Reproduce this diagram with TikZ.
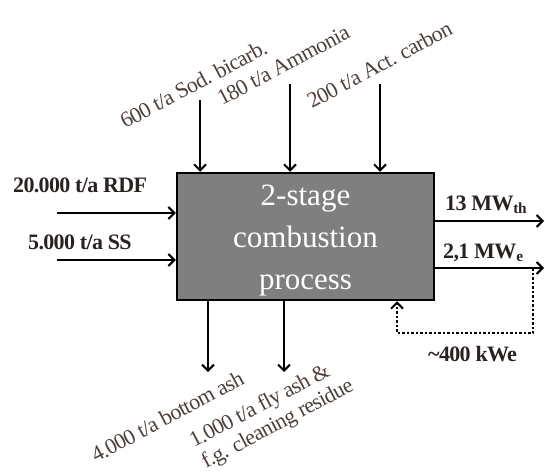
\documentclass[tikz,border=0pt]{standalone}
\usepackage{fontspec}
\setmainfont{Liberation Serif}
\usetikzlibrary{arrows.meta}
\definecolor{boxgray}{HTML}{7F7F7F}
\definecolor{flowtext}{HTML}{4E3F3A}
\definecolor{darktext}{HTML}{2A2220}
\begin{document}
\begin{tikzpicture}[x=1pt,y=-1pt,
  tip/.style={-{Straight Barb[length=6pt,width=12pt,line width=2pt]}},
  flow/.style={line width=2pt,tip},
  feedback/.style={line width=2pt,dash pattern=on 2.5pt off 2pt,tip},
  slanted/.style={anchor=base west,rotate=28,text=flowtext,inner sep=0pt,
    font=\fontsize{22}{23}\selectfont\addfontfeatures{LetterSpace=-3}},
  bold/.style={anchor=base west,text=darktext,inner sep=0pt,
    font=\fontsize{22}{23}\selectfont\bfseries\addfontfeatures{LetterSpace=-3}}]
\useasboundingbox (0,0) rectangle (545,473);

% process box
\node (box) [draw=black,line width=2.5pt,fill=boxgray,minimum width=257pt,
  minimum height=127pt,inner sep=0pt] at (305.5,236.5) {};
\node (boxtext) [text=white,align=center,font=\fontsize{31}{42}\selectfont]
  at ([yshift=-4.5pt]box.center) {2-stage\\combustion\\process};

% main inputs from the left
\coordinate (in1) at (57,213);
\coordinate (in2) at (57,260);
\draw[flow] (in1) -- (in1 -| box.west);
\draw[flow] (in2) -- (in2 -| box.west);
\node (rdf) [bold] at (13,192) {20.000 t/a RDF};
\node (ss) [bold] at (28,249) {5.000 t/a SS};

% additives from the top
\coordinate (t1) at (200,100);
\coordinate (t2) at (290,84);
\coordinate (t3) at (380,84);
\draw[flow] (t1) -- (t1 |- box.north);
\draw[flow] (t2) -- (t2 |- box.north);
\draw[flow] (t3) -- (t3 |- box.north);
\node (sod) [slanted] at (125,129) {600 t/a Sod. bicarb.};
\node (amm) [slanted] at (222,106) {180 t/a Ammonia};
\node (act) [slanted] at (312,109) {200 t/a Act. carbon};

% residues at the bottom
\coordinate (b1) at (208,372);
\coordinate (b2) at (284,372);
\draw[flow] (b1 |- box.south) -- (b1);
\draw[flow] (b2 |- box.south) -- (b2);
\node (bash) [slanted] at (96,463) {4.000 t/a bottom ash};
\node (fash) [slanted] at (194,448) {1.000 t/a fly ash \&};
\node (fgc) [slanted] at (206,469) {f.g. cleaning residue};

% energy outputs to the right
\coordinate (o1) at (544,221);
\coordinate (o2) at (544,268);
\draw[flow] (o1 -| box.east) -- (o1);
\draw[flow] (o2 -| box.east) -- (o2);
\node (mwth) [bold] at (445,210) {13 MW\textsubscript{th}};
\node (mwe) [bold] at (443,258) {2,1 MW\textsubscript{e}};

% own consumption fed back into the process
\coordinate (fb1) at (533,268);
\coordinate (fb2) at (533,333);
\coordinate (fb3) at (397,333);
\draw[feedback] (fb1) -- (fb2) -- (fb3) -- (fb3 |- box.south);
\node (kwe) [bold] at (428,361) {\textasciitilde400 kWe};
\end{tikzpicture}
\end{document}
